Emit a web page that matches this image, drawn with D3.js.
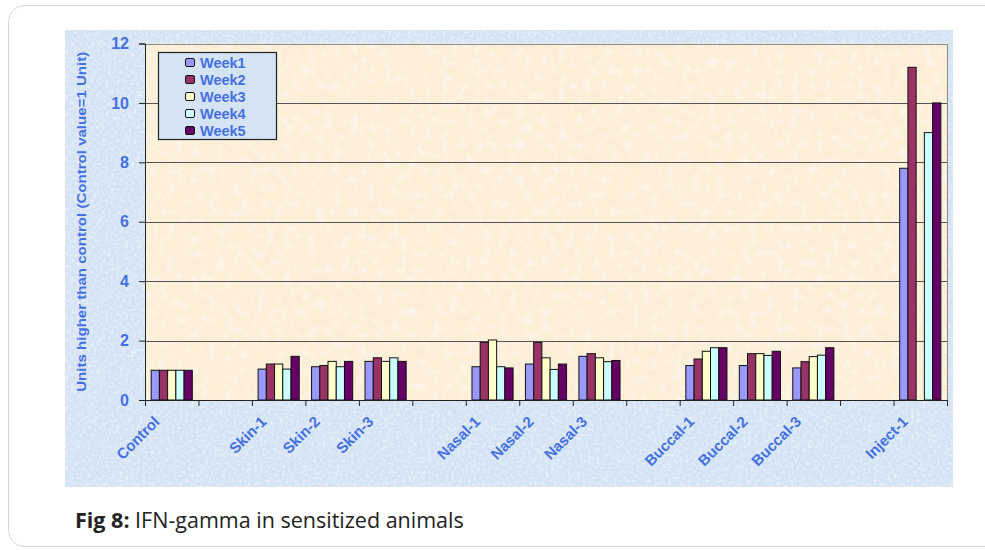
<!DOCTYPE html>
<html>
<head>
<meta charset="utf-8">
<script src="https://cdn.jsdelivr.net/npm/d3@7/dist/d3.min.js"></script>
<style>
  html, body { margin: 0; padding: 0; background: #fff; }
  svg { display: block; }
</style>
</head>
<body>
<svg id="chart" width="985" height="550"></svg>
<script>
// Group labels along the x axis (empty slots separate the routes)
const categories = ["Control", "", "Skin-1", "Skin-2", "Skin-3", "", "Nasal-1", "Nasal-2", "Nasal-3", "", "Buccal-1", "Buccal-2", "Buccal-3", "", "Inject-1"];
const seriesNames = ["Week1", "Week2", "Week3", "Week4", "Week5"];
// IFN-gamma, units relative to control
const week1 = [1.0, null, 1.04, 1.12, 1.30, null, 1.12, 1.21, 1.47, null, 1.16, 1.16, 1.08, null, 7.8];
const week2 = [1.0, null, 1.21, 1.16, 1.42, null, 1.94, 1.94, 1.56, null, 1.38, 1.56, 1.29, null, 11.2];
const week3 = [1.0, null, 1.21, 1.30, 1.30, null, 2.02, 1.42, 1.42, null, 1.64, 1.56, 1.46, null, null];
const week4 = [1.0, null, 1.04, 1.12, 1.42, null, 1.12, 1.03, 1.29, null, 1.76, 1.50, 1.51, null, 9.0];
const week5 = [1.0, null, 1.47, 1.30, 1.30, null, 1.08, 1.21, 1.33, null, 1.76, 1.64, 1.76, null, 10.0];
const yTicks = [0, 2, 4, 6, 8, 10, 12];
const seriesColors = ["#9999ff", "#993366", "#ffffcc", "#ccffff", "#660066"];

const allSeries = [week1, week2, week3, week4, week5];
const textBlue = "#4470e4";

const svg = d3.select("#chart");
const defs = svg.append("defs");

// Speckled paper texture for the chart and plot backgrounds
function speckle(id, color, alpha, freq) {
  const f = defs.append("filter").attr("id", id).attr("x", 0).attr("y", 0).attr("width", 1).attr("height", 1);
  f.append("feTurbulence").attr("type", "fractalNoise").attr("baseFrequency", freq).attr("numOctaves", 2).attr("seed", 3).attr("result", "noise");
  f.append("feColorMatrix").attr("in", "noise").attr("type", "matrix")
    .attr("values", `0 0 0 0 ${color[0]}  0 0 0 0 ${color[1]}  0 0 0 0 ${color[2]}  1.6 0 0 0 -0.75`)
    .attr("result", "spots");
  f.append("feComponentTransfer").attr("in", "spots").attr("result", "soft")
    .append("feFuncA").attr("type", "linear").attr("slope", alpha);
  f.append("feComposite").attr("in", "soft").attr("in2", "SourceGraphic").attr("operator", "over");
}
speckle("blueTex", [1, 1, 1], 0.9, 0.35);
speckle("beigeTex", [1, 1, 1], 0.7, 0.12);

// Card frame
svg.append("rect")
  .attr("x", 8.5).attr("y", 5.5).attr("width", 1000).attr("height", 541)
  .attr("rx", 16).attr("fill", "#fff").attr("stroke", "#d4d4d4").attr("stroke-width", 1);

// Chart area background
svg.append("rect")
  .attr("x", 65).attr("y", 30).attr("width", 888).attr("height", 457)
  .attr("fill", "#d5e4f5").attr("filter", "url(#blueTex)");

const plot = { left: 145, right: 947, top: 43.5, bottom: 400 };

const x0 = d3.scaleBand()
  .domain(d3.range(categories.length))
  .range([plot.left, plot.right])
  .paddingInner(0).paddingOuter(0);

const groupW = x0.bandwidth() / 1.3;
const x1 = d3.scaleBand()
  .domain(d3.range(seriesNames.length))
  .range([0, groupW]);

const y = d3.scaleLinear().domain([0, 12]).range([plot.bottom, plot.top]);

// Plot area background
svg.append("rect")
  .attr("x", plot.left).attr("y", plot.top)
  .attr("width", plot.right - plot.left).attr("height", plot.bottom - plot.top)
  .attr("fill", "#fcefd8").attr("filter", "url(#beigeTex)");

// Horizontal gridlines
svg.append("g")
  .selectAll("line")
  .data(yTicks.filter(d => d > 0 && d < 12))
  .join("line")
  .attr("x1", plot.left).attr("x2", plot.right)
  .attr("y1", d => Math.round(y(d)) + 0.5).attr("y2", d => Math.round(y(d)) + 0.5)
  .attr("stroke", "#555").attr("stroke-width", 1);

// Plot border (top and right)
svg.append("path")
  .attr("d", `M${plot.left},${Math.round(plot.top) + 0.5}H${plot.right + 0.5}V${plot.bottom}`)
  .attr("fill", "none").attr("stroke", "#8a8a8a").attr("stroke-width", 1);

// Bars
const groups = svg.append("g")
  .selectAll("g")
  .data(seriesNames.map((name, si) => ({ name, si, values: allSeries[si] })))
  .join("g")
  .attr("fill", d => seriesColors[d.si]);

groups.selectAll("rect")
  .data(d => d.values.map((v, ci) => ({ v, ci, si: d.si })).filter(d => d.v != null))
  .join("rect")
  .attr("x", d => x0(d.ci) + (x0.bandwidth() - groupW) / 2 + x1(d.si))
  .attr("width", x1.bandwidth())
  .attr("y", d => y(d.v))
  .attr("height", d => y(0) - y(d.v))
  .attr("stroke", "#111").attr("stroke-width", 1);

// Y axis
const yAxis = svg.append("g")
  .attr("transform", `translate(${plot.left},0)`)
  .call(d3.axisLeft(y).tickValues(yTicks).tickFormat(d3.format("d")).tickSize(6).tickPadding(10));
yAxis.select(".domain").attr("stroke", "#222");
yAxis.selectAll(".tick line").attr("stroke", "#222");
yAxis.selectAll(".tick text")
  .attr("fill", textBlue)
  .attr("font-family", "Liberation Sans, Arial, sans-serif")
  .attr("font-weight", "bold").attr("font-size", 16);

// X axis: ticks on category boundaries
const xAxisG = svg.append("g").attr("transform", `translate(0,${plot.bottom})`);
xAxisG.append("line")
  .attr("x1", plot.left).attr("x2", plot.right + 0.5)
  .attr("y1", 0.5).attr("y2", 0.5).attr("stroke", "#222");
xAxisG.selectAll("line.tick")
  .data(d3.range(categories.length + 1))
  .join("line").attr("class", "tick")
  .attr("x1", i => (i < categories.length ? x0(i) : plot.right) + 0.5)
  .attr("x2", i => (i < categories.length ? x0(i) : plot.right) + 0.5)
  .attr("y1", 0).attr("y2", 6).attr("stroke", "#222");

xAxisG.selectAll("text")
  .data(categories.map((c, i) => ({ c, i })).filter(d => d.c))
  .join("text")
  .attr("transform", d => `translate(${x0(d.i) + x0.bandwidth() / 2 - 15},${19}) rotate(-45)`)
  .attr("text-anchor", "end")
  .attr("dy", "0.35em")
  .attr("fill", textBlue)
  .attr("font-family", "Liberation Sans, Arial, sans-serif")
  .attr("font-weight", "bold").attr("font-size", 15)
  .text(d => d.c);

// Y axis title
svg.append("text")
  .attr("transform", `translate(86,${(plot.top + plot.bottom) / 2 + 0}) rotate(-90)`)
  .attr("text-anchor", "middle")
  .attr("fill", textBlue)
  .attr("font-family", "Liberation Sans, Arial, sans-serif")
  .attr("font-weight", "bold").attr("font-size", 13)
  .attr("textLength", 340).attr("lengthAdjust", "spacingAndGlyphs")
  .text("Units higher than control (Control value=1 Unit)");

// Legend
const legend = svg.append("g").attr("transform", "translate(158,52)");
legend.append("rect")
  .attr("x", 0.5).attr("y", 0.5).attr("width", 118).attr("height", 87)
  .attr("fill", "#d5e4f5").attr("stroke", "#222").attr("stroke-width", 1.2);
const items = legend.selectAll("g.item")
  .data(seriesNames)
  .join("g").attr("class", "item")
  .attr("transform", (d, i) => `translate(27,${10 + i * 17})`);
items.append("rect")
  .attr("x", 0.5).attr("y", -3.5).attr("width", 9).attr("height", 8).attr("rx", 1.5)
  .attr("fill", (d, i) => seriesColors[i]).attr("stroke", "#111");
items.append("text")
  .attr("x", 15).attr("y", 0.5).attr("dy", "0.35em")
  .attr("fill", textBlue)
  .attr("font-family", "Liberation Sans, Arial, sans-serif")
  .attr("font-weight", "bold").attr("font-size", 14.5)
  .text(d => d);

// Caption
const cap = svg.append("text")
  .attr("x", 75).attr("y", 528)
  .attr("font-family", "Open Sans, sans-serif").attr("font-size", 21.5).attr("fill", "#222");
cap.append("tspan").attr("font-weight", "bold").text("Fig 8:");
cap.append("tspan").text(" IFN-gamma in sensitized animals");
</script>
</body>
</html>
